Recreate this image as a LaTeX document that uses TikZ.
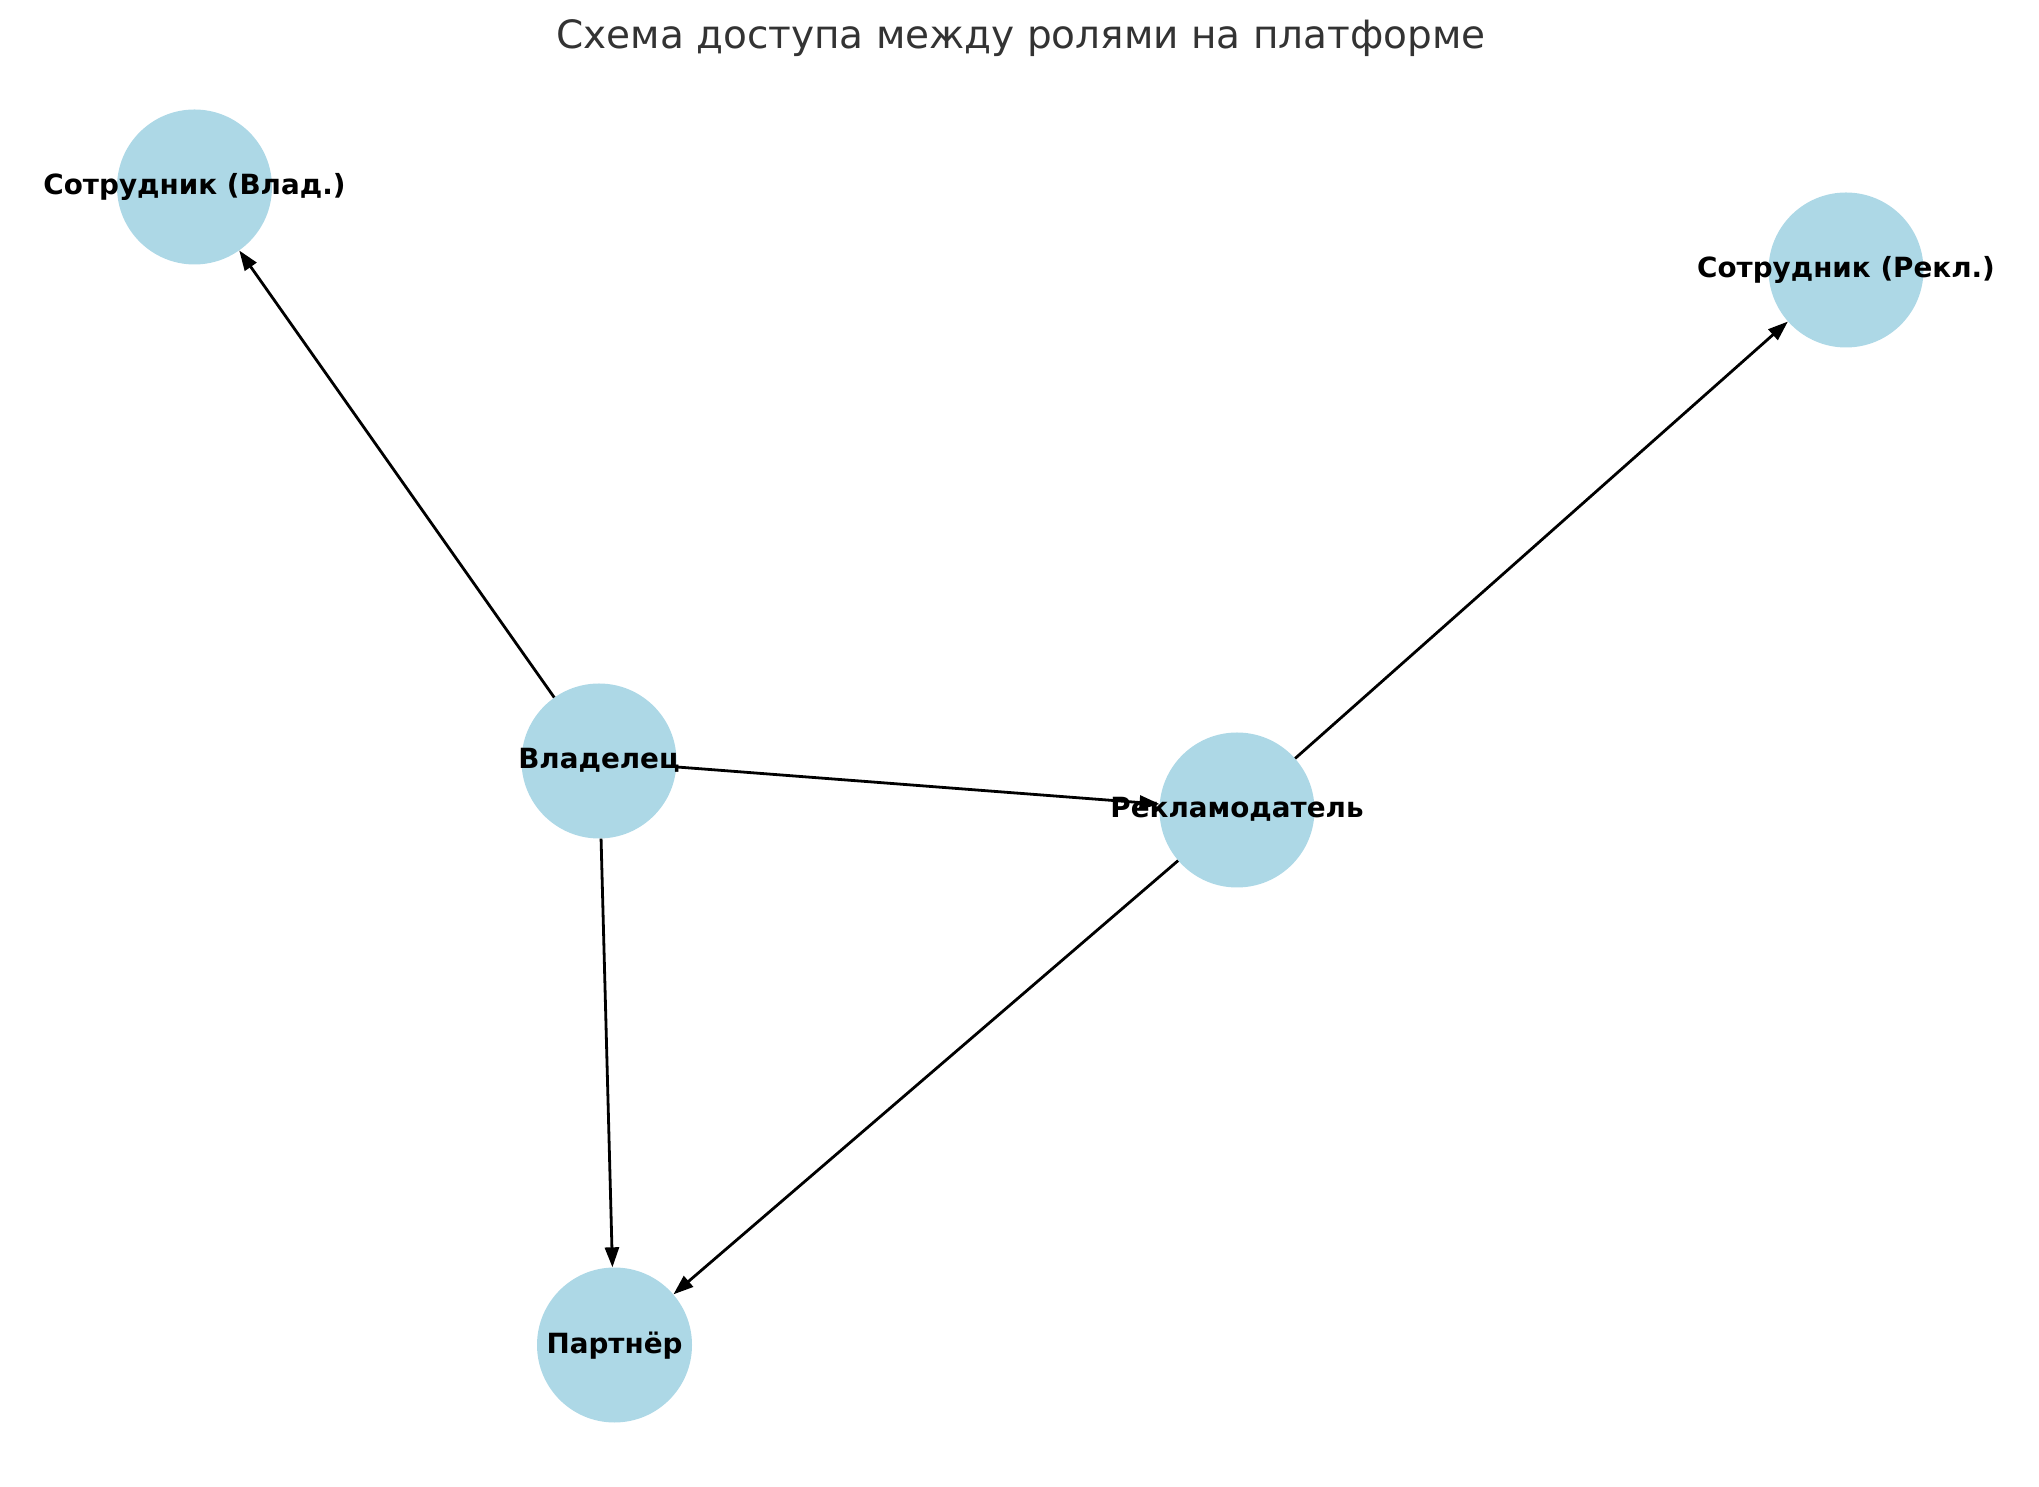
\documentclass[tikz,border=0pt]{standalone}
\usepackage{fontspec}
\setmainfont{DejaVu Sans}
\usetikzlibrary{arrows.meta}
\definecolor{nodeblue}{HTML}{ADD8E6}
\definecolor{titlegray}{HTML}{333333}
\tikzset{
  role/.style={circle, fill=nodeblue, minimum size=155pt, inner sep=0pt},
  rolelabel/.style={anchor=base, inner sep=0pt, font=\fontsize{27.8}{33}\selectfont\bfseries, text=black},
  edge/.style={draw=black, line width=2.8pt, -{Triangle[length=20pt,width=14pt]}, shorten >=0pt},
}
\begin{document}
\begin{tikzpicture}[x=1pt,y=1pt]
\useasboundingbox (0,0) rectangle (2039,1486);
\node[anchor=base, inner sep=0pt, text=titlegray, font=\fontsize{39}{46}\selectfont] (title) at (1021,1437) {Схема доступа между ролями на платформе};
\node[role] (sv) at (194.5,1299) {};
\node[role] (sr) at (1846,1216) {};
\node[role] (vl) at (599,725) {};
\node[role] (rk) at (1237,676) {};
\node[role] (pt) at (614.5,141) {};
\draw[edge] (vl) -- (sv);
\draw[edge] (vl) -- (rk);
\draw[edge] (vl) -- (pt);
\draw[edge] (rk) -- (sr);
\draw[edge] (rk) -- (pt);
\node[rolelabel] (lsv) at (194.5,1291) {Сотрудник (Влад.)};
\node[rolelabel] (lsr) at (1846,1208) {Сотрудник (Рекл.)};
\node[rolelabel] (lvl) at (599,717) {Владелец};
\node[rolelabel] (lrk) at (1237,668) {Рекламодатель};
\node[rolelabel] (lpt) at (614.5,133) {Партнёр};
\end{tikzpicture}
\end{document}
